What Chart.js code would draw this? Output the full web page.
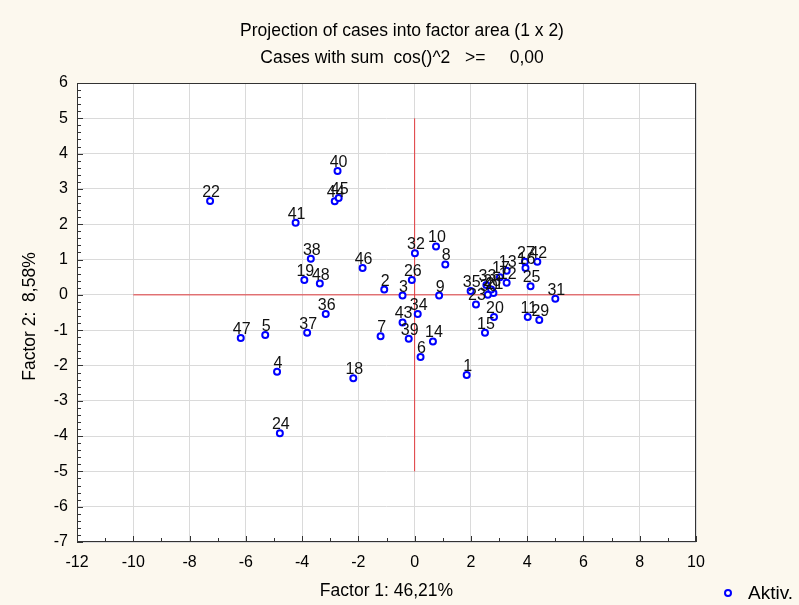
<!DOCTYPE html>
<html>
<head>
<meta charset="utf-8">
<script src="https://cdn.jsdelivr.net/npm/chart.js@4/dist/chart.umd.min.js"></script>
<style>
  html, body { margin: 0; padding: 0; background: #fcf8ee; }
  #wrap { width: 799px; height: 605px; }
</style>
</head>
<body>
<div id="wrap"><canvas id="factorPlot" width="799" height="605"></canvas></div>
<script>
// case numbers and their coordinates on factor 1 / factor 2
const caseIds = ['1','2','3','4','5','6','7','8','9','10','11','12','13','14','15','16',
  '17','18','19','20','21','22','23','24','25','26','27','28','29','30','31','32',
  '33','34','35','36','37','38','39','40','41','42','43','44','45','46','47','48'];
const factor1 = [1.85, -1.08, -0.43, -4.89, -5.31, 0.21, -1.21, 1.09, 0.87, 0.76, 4.02, 3.27, 3.27, 0.65, 2.50, 3.94,
  3.03, -2.18, -3.92, 2.82, 2.80, -7.27, 2.18, -4.79, 4.12, -0.10, 3.92, 2.72, 4.43, 2.60, 5.00, 0.01,
  2.55, 0.11, 1.99, -3.16, -3.82, -3.69, -0.21, -2.74, -4.23, 4.36, -0.43, -2.84, -2.70, -1.85, -6.18, -3.37];
const factor2 = [-2.27, 0.15, -0.02, -2.18, -1.14, -1.76, -1.17, 0.86, -0.02, 1.37, -0.63, 0.34, 0.68, -1.32, -1.07, 0.76,
  0.50, -2.36, 0.42, -0.63, 0.05, 2.66, -0.27, -3.92, 0.24, 0.42, 0.94, 0.15, -0.71, 0.00, -0.11, 1.18,
  0.28, -0.54, 0.11, -0.54, -1.07, 1.02, -1.24, 3.51, 2.04, 0.94, -0.78, 2.65, 2.74, 0.76, -1.22, 0.32];

// red cross through the origin
const hLineX = [-10, 8];
const vLineY = [-5, 5];

const titleLines = ['Projection of cases into factor area (1 x 2)', 'Cases with sum  cos()^2   >=     0,00'];
const xTitle = 'Factor 1: 46,21%';
const yTitle = 'Factor 2:  8,58%';
const legendLabel = 'Aktiv.';

const FONT = 'Arial, "Liberation Sans", sans-serif';

const points = caseIds.map((id, i) => ({ x: factor1[i], y: factor2[i] }));

// background, frame, minor ticks, titles, legend
const decor = {
  id: 'decor',
  beforeDraw(chart) {
    const { ctx, chartArea: a } = chart;
    ctx.save();
    ctx.fillStyle = '#fcf8ee';
    ctx.fillRect(0, 0, chart.width, chart.height);
    ctx.fillStyle = '#ffffff';
    ctx.fillRect(a.left, a.top, a.right - a.left, a.bottom - a.top);
    ctx.restore();
  },
  afterDraw(chart) {
    const { ctx, chartArea: a, scales } = chart;
    ctx.save();
    ctx.strokeStyle = '#333';
    ctx.lineWidth = 1;
    ctx.strokeRect(a.left + 0.5, a.top + 0.5, a.right - a.left - 1, a.bottom - a.top - 1);

    ctx.beginPath();
    for (let v = -12; v <= 10; v += 1) {
      const px = Math.round(scales.x.getPixelForValue(v)) + 0.5;
      const len = v % 2 === 0 ? 6 : 4;
      ctx.moveTo(px, a.bottom);
      ctx.lineTo(px, a.bottom - len);
    }
    for (let k = -35; k <= 30; k++) {
      const v = k / 5;
      const py = Math.round(scales.y.getPixelForValue(v)) + 0.5;
      const len = k % 5 === 0 ? 6 : 4;
      ctx.moveTo(a.left, py);
      ctx.lineTo(a.left + len, py);
    }
    ctx.stroke();

    ctx.fillStyle = '#000';
    ctx.textAlign = 'center';
    ctx.textBaseline = 'middle';
    ctx.font = '17.5px ' + FONT;
    ctx.fillText(titleLines[0], 402, 31);
    ctx.fillText(titleLines[1], 402, 58);

    ctx.fillText(xTitle, (a.left + a.right) / 2, 591);
    ctx.save();
    ctx.translate(30, (a.top + a.bottom) / 2 + 4);
    ctx.rotate(-Math.PI / 2);
    ctx.fillText(yTitle, 0, 0);
    ctx.restore();

    // legend
    ctx.beginPath();
    ctx.arc(728, 593, 3, 0, Math.PI * 2);
    ctx.fillStyle = '#fff';
    ctx.fill();
    ctx.lineWidth = 2;
    ctx.strokeStyle = '#0000ff';
    ctx.stroke();
    ctx.fillStyle = '#000';
    ctx.textAlign = 'left';
    ctx.font = '19px ' + FONT;
    ctx.fillText(legendLabel, 748, 594);
    ctx.restore();
  }
};

// case number above each point
const caseLabels = {
  id: 'caseLabels',
  afterDatasetsDraw(chart) {
    const meta = chart.getDatasetMeta(0);
    const ctx = chart.ctx;
    ctx.save();
    ctx.font = '16px ' + FONT;
    ctx.fillStyle = '#111';
    ctx.textAlign = 'center';
    ctx.textBaseline = 'alphabetic';
    meta.data.forEach((pt, i) => {
      ctx.fillText(caseIds[i], pt.x + 1, pt.y - 4);
    });
    ctx.restore();
  }
};

const tickFont = { family: FONT, size: 16 };

const config = {
  type: 'scatter',
  data: {
    datasets: [
      {
        label: legendLabel,
        data: points,
        pointStyle: 'circle',
        pointRadius: 3,
        pointBorderWidth: 2,
        borderColor: '#0000ff',
        backgroundColor: '#ffffff',
        order: 1
      },
      {
        type: 'line',
        data: hLineX.map(x => ({ x: x, y: 0 })),
        borderColor: '#e23b3e',
        borderWidth: 1,
        pointRadius: 0,
        order: 2
      },
      {
        type: 'line',
        data: vLineY.map(y => ({ x: 0, y: y })),
        borderColor: '#e23b3e',
        borderWidth: 1,
        pointRadius: 0,
        order: 2
      }
    ]
  },
  options: {
    responsive: false,
    animation: false,
    layout: { padding: { left: 0, top: 83, right: 103, bottom: 0 } },
    plugins: {
      legend: { display: false },
      tooltip: { enabled: false },
      title: { display: false }
    },
    scales: {
      x: {
        type: 'linear',
        min: -12,
        max: 10,
        ticks: { stepSize: 2, color: '#000', font: tickFont, padding: 11 },
        grid: { color: '#dadada', drawTicks: false },
        border: { display: false },
        afterFit(s) { s.height = 63; }
      },
      y: {
        type: 'linear',
        min: -7,
        max: 6,
        ticks: { stepSize: 1, color: '#000', font: tickFont, padding: 9 },
        grid: { color: '#dadada', drawTicks: false },
        border: { display: false },
        afterFit(s) { s.width = 77; }
      }
    }
  },
  plugins: [decor, caseLabels]
};

const ctx = document.getElementById('factorPlot').getContext('2d');
const myChart = new Chart(ctx, config);
</script>
</body>
</html>
